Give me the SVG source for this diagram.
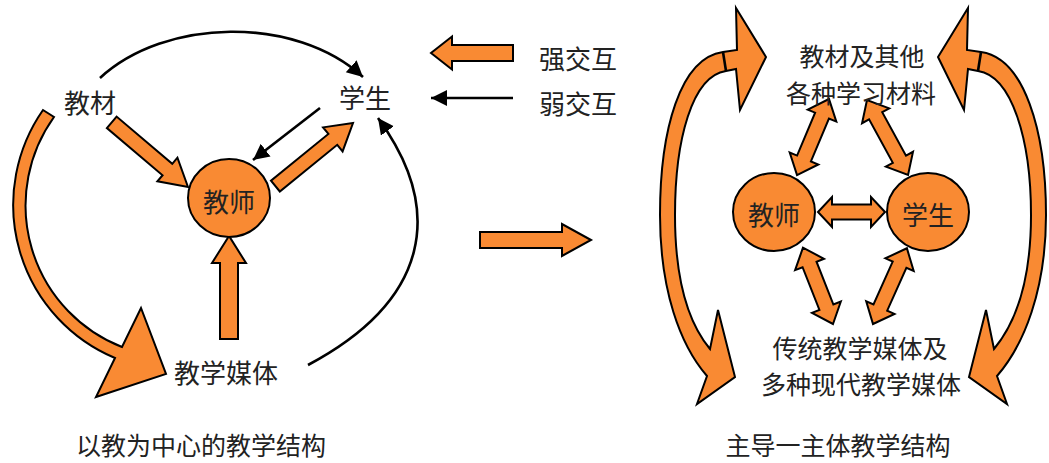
<svg xmlns="http://www.w3.org/2000/svg" width="1049" height="463" viewBox="0 0 1049 463">
<style>
.o{fill:#F98A33;stroke:#000;stroke-width:2;stroke-linejoin:miter}
.ln{fill:none;stroke:#000;stroke-width:2.6}
.t{font-family:"Noto Sans CJK SC","Noto Sans",sans-serif;font-size:26px;fill:#222;text-anchor:middle;dominant-baseline:central}
.cap{font-size:25px}
.two{font-size:25px}
</style>
<defs>
<marker id="ah" markerUnits="userSpaceOnUse" markerWidth="20" markerHeight="20" refX="16" refY="8" orient="auto">
<path d="M0,0 L16,8 L0,16 Z" fill="#000"/>
</marker>
</defs>
<rect width="1049" height="463" fill="#fff"/>

<g id="connectors">
  <!-- left structure -->
  <path class="ln" d="M100,78 C165,18 295,15 363,77" marker-end="url(#ah)"/>
  <path class="ln" d="M320,108 L253,160" marker-end="url(#ah)"/>
  <path class="ln" d="M308,365 C430,300 445,210 378,118" marker-end="url(#ah)"/>
  <polygon class="o" transform="translate(188,187) rotate(40.3)" points="0,0 -27,-15.5 -27,-7.5 -100,-7.5 -100,7.5 -27,7.5 -27,15.5"/>
  <polygon class="o" transform="translate(353,123) rotate(-39.1)" points="0,0 -26,-15.5 -26,-7 -100,-7 -100,7 -26,7 -26,15.5"/>
  <polygon class="o" transform="translate(229,236) rotate(-90)" points="0,0 -27,-17 -27,-9 -103,-9 -103,9 -27,9 -27,17"/>
  <path class="o" d="M43,110 A166,166 0 0 0 115,358 L96,397 L166,374 L141,308 L122,347 A152,152 0 0 1 54,117 Z"/>
  <!-- middle transition arrow -->
  <polygon class="o" transform="translate(591,240)" points="0,0 -29,-16 -29,-8 -111,-8 -111,8 -29,8 -29,16"/>
  <!-- right structure -->
  <polygon class="o" transform="translate(885,212)" points="0,0 -14,-15 -14,-7.5 -53,-7.5 -53,-15 -67,0 -53,15 -53,7.5 -14,7.5 -14,15"/>
  <polygon class="o" transform="translate(829,99) rotate(-67.2)" points="0,0 -18,-15.5 -18,-7.5 -64.5,-7.5 -64.5,-15.5 -82.5,0 -64.5,15.5 -64.5,7.5 -18,7.5 -18,15.5"/>
  <polygon class="o" transform="translate(867,100) rotate(-118.7)" points="0,0 -18,-15.5 -18,-7.5 -67.5,-7.5 -67.5,-15.5 -85.5,0 -67.5,15.5 -67.5,7.5 -18,7.5 -18,15.5"/>
  <polygon class="o" transform="translate(833,324) rotate(68.5)" points="0,0 -18,-15.5 -18,-7.5 -64,-7.5 -64,-15.5 -82,0 -64,15.5 -64,7.5 -18,7.5 -18,15.5"/>
  <polygon class="o" transform="translate(873,324) rotate(114.1)" points="0,0 -18,-15.5 -18,-7.5 -65,-7.5 -65,-15.5 -83,0 -65,15.5 -65,7.5 -18,7.5 -18,15.5"/>
  <path class="o" d="M736,8 L766,57 L740,110 L736,69 L726,71 C692,76 675,140 675,215 C675,285 690,325 710,349 L718,310 L735,377 L697,404 L707,376 C680,345 660,290 660,215 C660,130 680,58 723,52 L737,50 Z"/>
  <line class="ln" x1="723" y1="52" x2="726" y2="71" stroke-width="2"/>
  <path class="o" d="M968,8 L938,57 L964,110 L968,69 L978,71 C1012,76 1031,140 1031,215 C1031,285 1014,325 994,349 L986,310 L969,377 L1007,404 L997,376 C1024,345 1046,290 1046,215 C1046,130 1024,58 981,52 L967,50 Z"/>
  <line class="ln" x1="981" y1="52" x2="978" y2="71" stroke-width="2"/>
</g>

<g id="node-jiaocai-left"><text class="t" x="90" y="101">教材</text></g>
<g id="node-xuesheng-left"><text class="t" x="365" y="96">学生</text></g>
<g id="node-jiaoshi-left">
  <ellipse class="o" cx="229" cy="198" rx="41" ry="39"/>
  <text class="t" x="229" y="200">教师</text>
</g>
<g id="node-meiti-left"><text class="t" x="226" y="371">教学媒体</text></g>

<g id="legend">
  <polygon class="o" transform="translate(431,53) rotate(180)" points="0,0 -21,-16.5 -21,-8 -82,-8 -82,8 -21,8 -21,16.5"/>
  <text class="t" x="578" y="57">强交互</text>
  <path class="ln" d="M513,98 L431,98" marker-end="url(#ah)"/>
  <text class="t" x="578" y="102">弱交互</text>
</g>

<g id="node-cailiao-right">
  <text class="t two" x="862" y="55">教材及其他</text>
  <text class="t two" x="861" y="91.5">各种学习材料</text>
</g>
<g id="node-jiaoshi-right">
  <ellipse class="o" cx="774" cy="212" rx="41" ry="39"/>
  <text class="t" x="774" y="213">教师</text>
</g>
<g id="node-xuesheng-right">
  <ellipse class="o" cx="928" cy="212" rx="41" ry="39"/>
  <text class="t" x="928" y="213">学生</text>
</g>
<g id="node-meiti-right">
  <text class="t two" x="860" y="346.5">传统教学媒体及</text>
  <text class="t two" x="861" y="383">多种现代教学媒体</text>
</g>

<g id="captions">
  <text class="t cap" x="201" y="444">以教为中心的教学结构</text>
  <text class="t cap" x="838" y="444">主导一主体教学结构</text>
</g>
</svg>
